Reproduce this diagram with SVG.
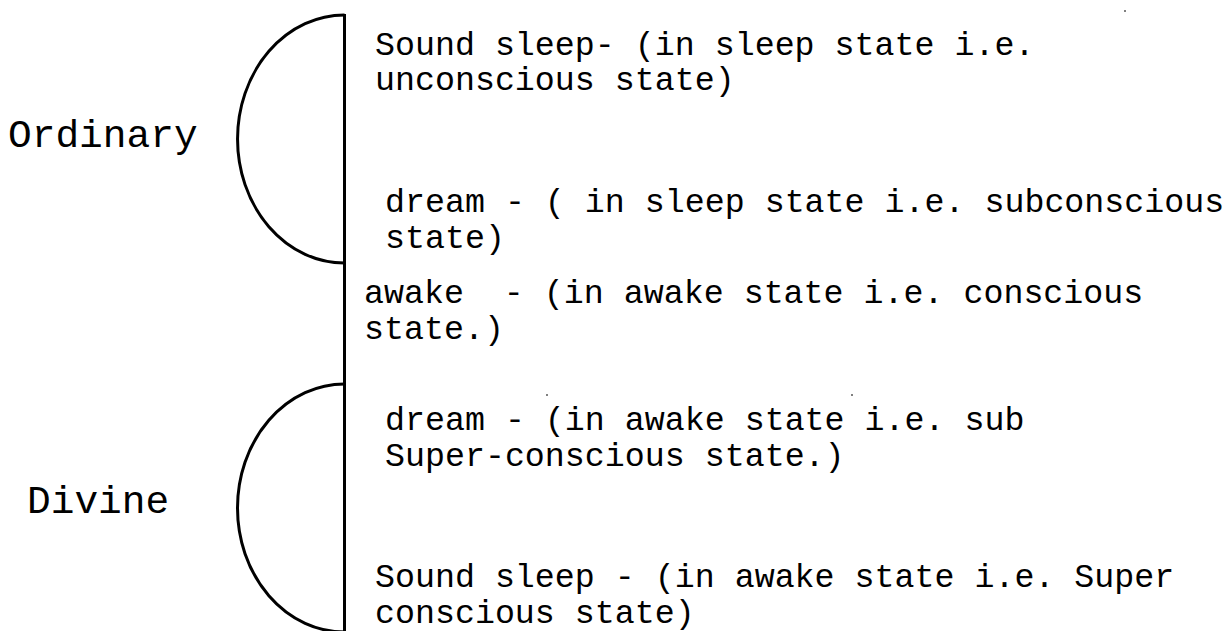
<svg xmlns="http://www.w3.org/2000/svg" width="1226" height="631" viewBox="0 0 1226 631">
  <style>
    .bg { fill: #ffffff; }
    .t { font-family: "Courier New", "Liberation Mono", monospace; font-size: 33.3px; fill: #000000; }
    .lbl { font-family: "Courier New", "Liberation Mono", monospace; font-size: 39.5px; fill: #000000; }
    .ln { fill: none; stroke: #000000; stroke-width: 3; }
    .dot { fill: #808080; }
  </style>
  <rect class="bg" x="0" y="0" width="1226" height="631"/>

  <g id="connectors">
    <path class="ln" d="M344.5 14 L344.5 633"/>
    <path class="ln" d="M344.5 15 A107 124 0 0 0 344.5 263"/>
    <path class="ln" d="M344.5 384 A107 124 0 0 0 344.5 632"/>
  </g>

  <g id="label-ordinary">
    <text class="lbl" x="8" y="147">Ordinary</text>
  </g>
  <g id="label-divine">
    <text class="lbl" x="27" y="513">Divine</text>
  </g>

  <g id="sound-sleep-ordinary">
    <text class="t" x="375" y="55">Sound sleep- (in sleep state i.e.</text>
    <text class="t" x="375" y="90">unconscious state)</text>
  </g>
  <g id="dream-ordinary">
    <text class="t" x="385" y="212">dream - ( in sleep state i.e. subconscious</text>
    <text class="t" x="385" y="248">state)</text>
  </g>
  <g id="awake">
    <text class="t" x="364" y="303" xml:space="preserve">awake  - (in awake state i.e. conscious</text>
    <text class="t" x="364" y="339">state.)</text>
  </g>
  <g id="dream-divine">
    <text class="t" x="385" y="430">dream - (in awake state i.e. sub</text>
    <text class="t" x="385" y="466">Super-conscious state.)</text>
  </g>
  <g id="sound-sleep-divine">
    <text class="t" x="375" y="587">Sound sleep - (in awake state i.e. Super</text>
    <text class="t" x="375" y="623">conscious state)</text>
  </g>

  <g id="specks">
    <rect class="dot" x="1124" y="10" width="2" height="2"/>
    <rect class="dot" x="546" y="394" width="2" height="2"/>
    <rect class="dot" x="851" y="394" width="2" height="2"/>
  </g>
</svg>
